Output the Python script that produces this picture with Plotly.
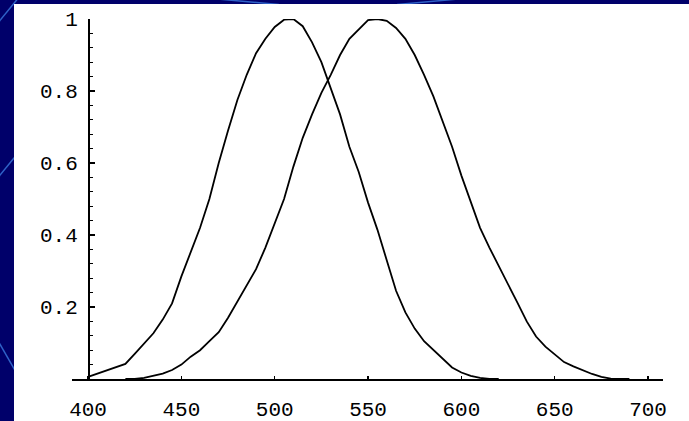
import plotly.graph_objects as go

# Wavelengths (nm) and relative sensitivity values
left_wl = [400, 405, 410, 415, 420, 425, 430, 435, 440, 445, 450, 455, 460, 465,
           470, 475, 480, 485, 490, 495, 500, 505, 510, 515, 520, 525, 530, 535,
           540, 545, 550, 555, 560, 565, 570, 575, 580, 585, 590, 595, 600, 605,
           610, 615, 620]
left_val = [0.006, 0.015, 0.025, 0.033, 0.042, 0.07, 0.10, 0.127, 0.165, 0.21,
            0.285, 0.35, 0.42, 0.50, 0.60, 0.69, 0.775, 0.845, 0.905, 0.945,
            0.978, 0.998, 1.0, 0.98, 0.935, 0.88, 0.805, 0.735, 0.645, 0.575,
            0.49, 0.415, 0.33, 0.245, 0.185, 0.14, 0.105, 0.08, 0.055, 0.032,
            0.018, 0.009, 0.003, 0.0, 0.0]

right_wl = [420, 425, 430, 435, 440, 445, 450, 455, 460, 465, 470, 475, 480,
            485, 490, 495, 500, 505, 510, 515, 520, 525, 530, 535, 540, 545,
            550, 555, 560, 565, 570, 575, 580, 585, 590, 595, 600, 605, 610,
            615, 620, 625, 630, 635, 640, 645, 650, 655, 660, 665, 670, 675,
            680, 685, 690]
right_val = [0.0, 0.0, 0.003, 0.008, 0.015, 0.025, 0.04, 0.062, 0.08, 0.105,
             0.13, 0.17, 0.215, 0.258, 0.305, 0.365, 0.43, 0.50, 0.59, 0.67,
             0.735, 0.795, 0.845, 0.9, 0.945, 0.972, 0.997, 1.0, 0.995, 0.975,
             0.945, 0.90, 0.845, 0.785, 0.715, 0.645, 0.565, 0.49, 0.42, 0.365,
             0.315, 0.265, 0.212, 0.16, 0.118, 0.09, 0.068, 0.047, 0.035,
             0.024, 0.014, 0.006, 0.001, 0.0, 0.0]

x_ticks = [400, 450, 500, 550, 600, 650, 700]
y_ticks = [0.2, 0.4, 0.6, 0.8, 1.0]
y_tick_text = ["0.2", "0.4", "0.6", "0.8", "1"]

NAVY = "#00006a"
FONT = dict(family="Liberation Mono", size=21, color="black")

fig = go.Figure()
for wl, val in ((left_wl, left_val), (right_wl, right_val)):
    fig.add_trace(go.Scatter(x=wl, y=val, mode="lines",
                             line=dict(color="black", width=1.8),
                             showlegend=False, hoverinfo="skip"))

# slide background: navy with a few light-blue streaks, white picture on top
shapes = []
for (x0, y0, x1, y1) in [(-0.13, 0.98, -0.09, 1.06), (-0.13, 0.55, -0.095, 0.62),
                         (-0.13, 0.12, -0.095, 0.02), (0.15, 1.07, 0.35, 1.04),
                         (0.55, 1.04, 0.75, 1.07)]:
    shapes.append(dict(type="line", xref="paper", yref="paper", x0=x0, y0=y0,
                       x1=x1, y1=y1, line=dict(color="#2f62c8", width=1.5),
                       layer="below"))
shapes.append(dict(type="rect", xref="paper", yref="paper",
                   x0=(14 - 72) / 591, x1=1.1, y0=-0.2, y1=(379 - 4) / 360,
                   fillcolor="white", line=dict(width=0), layer="below"))

fig.update_layout(
    width=689, height=421,
    margin=dict(l=72, r=26, t=19, b=42, autoexpand=False),
    paper_bgcolor=NAVY,
    plot_bgcolor="white",
    shapes=shapes,
    xaxis=dict(range=[391.4, 708], showline=True, linecolor="black",
               linewidth=1.5, ticks="inside", ticklen=3, tickcolor="black",
               tickwidth=1.2, tickvals=x_ticks, showgrid=False, zeroline=False,
               tickfont=FONT, ticklabelstandoff=10, automargin=False),
    yaxis=dict(range=[0, 1.0], anchor="free", position=(88 - 72) / 591,
               showline=True, linecolor="black", linewidth=1.5,
               ticks="inside", ticklen=5, tickcolor="black", tickwidth=1.2,
               tickvals=y_ticks, ticktext=y_tick_text, showgrid=False,
               zeroline=False, tickfont=FONT, ticklabelstandoff=6,
               automargin=False,
               minor=dict(ticks="inside", ticklen=3, tickcolor="black",
                          dtick=0.04, tick0=0, showgrid=False)),
)

fig.write_html(
    "out.html",
    config={"displayModeBar": False, "staticPlot": True},
    post_script="document.body.style.margin='0';"
                "document.body.style.background='" + NAVY + "';",
)
